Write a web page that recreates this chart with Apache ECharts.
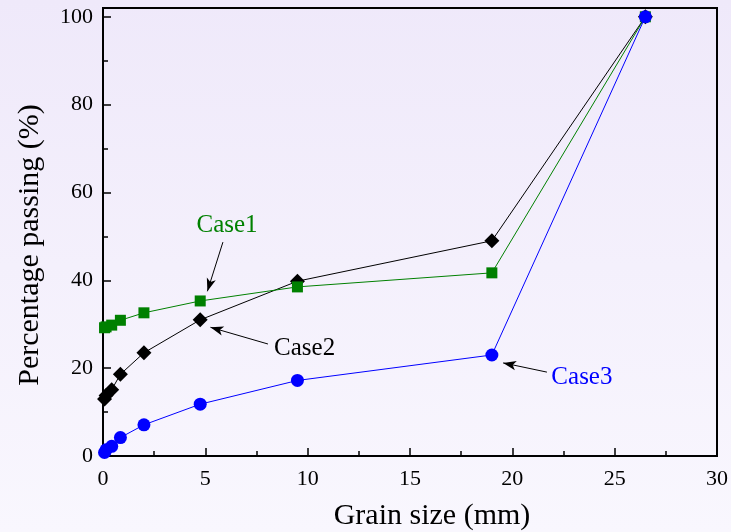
<!DOCTYPE html>
<html>
<head>
<meta charset="utf-8">
<script src="https://cdn.jsdelivr.net/npm/echarts@6/dist/echarts.min.js"></script>
<style>
html,body{margin:0;padding:0;overflow:hidden;}
body{width:731px;height:532px;background:linear-gradient(to bottom,#EFE9FA,#F9F7FE);}
#c{width:731px;height:532px;}
</style>
</head>
<body>
<div id="c"></div>
<script>
const grainSize = [0.075, 0.15, 0.425, 0.85, 2, 4.75, 9.5, 19, 26.5];
const case1 = [29.2, 29.4, 29.8, 30.9, 32.6, 35.3, 38.5, 41.7, 100];
const case2 = [13.0, 13.8, 15.1, 18.6, 23.5, 31.0, 39.8, 49.0, 100];
const case3 = [0.8, 1.4, 2.2, 4.2, 7.1, 11.8, 17.2, 23.0, 100];
const xTicks = [0, 5, 10, 15, 20, 25, 30];
const yTicks = [0, 20, 40, 60, 80, 100];
const yMinor = [10, 30, 50, 70, 90];

const FONT = '"Liberation Serif","Times New Roman",serif';
const pair = (xs, ys) => xs.map((x, i) => [x, ys[i]]);

const arrowStyle = {color: '#000', width: 1, type: 'solid'};
function arrow(from, to) {
  return [{coord: from, symbol: 'none'}, {coord: to, symbol: 'arrow', symbolSize: [7, 13]}];
}
function label(pos, text, color) {
  return {coord: pos, symbol: 'circle', symbolSize: 0,
    label: {show: true, position: 'inside', formatter: text, color: color, fontFamily: FONT, fontSize: 25}};
}

const chart = echarts.init(document.getElementById('c'), null, {renderer: 'canvas'});
chart.setOption({
  backgroundColor: 'transparent',
  animation: false,
  grid: {left: 103, right: 14, top: 8, bottom: 76, show: true, borderColor: '#000', borderWidth: 2,
         backgroundColor: 'transparent', containLabel: false, outerBoundsMode: 'none'},
  xAxis: {
    type: 'value', min: 0, max: 30, interval: 5,
    name: 'Grain size (mm)', nameLocation: 'middle', nameGap: 45,
    nameTextStyle: {fontFamily: FONT, fontSize: 30, color: '#000', padding: [0, 0, 0, 44]},
    axisLine: {show: true, onZero: false, lineStyle: {color: '#000', width: 2}},
    axisTick: {show: true, inside: true, length: 8, lineStyle: {color: '#000', width: 1.5}},
    minorTick: {show: true, splitNumber: 2, length: 5, lineStyle: {color: '#000', width: 1.5}},
    axisLabel: {fontFamily: FONT, fontSize: 22, color: '#000', margin: 12, customValues: xTicks},
    splitLine: {show: false}, minorSplitLine: {show: false}
  },
  yAxis: [{
    type: 'value', min: 0, max: 102,
    name: 'Percentage passing (%)', nameLocation: 'middle', nameGap: 58,
    nameTextStyle: {fontFamily: FONT, fontSize: 30, color: '#000', padding: [0, 26, 0, 0]},
    axisLine: {show: true, onZero: false, lineStyle: {color: '#000', width: 2}},
    axisTick: {show: true, inside: true, length: 8, customValues: yTicks, lineStyle: {color: '#000', width: 1.5}},
    axisLabel: {fontFamily: FONT, fontSize: 22, color: '#000', margin: 10, customValues: yTicks},
    splitLine: {show: false}
  }, {
    type: 'value', min: 0, max: 102, position: 'left',
    axisLine: {show: false},
    axisTick: {show: true, inside: true, length: 5, customValues: yMinor, lineStyle: {color: '#000', width: 1.5}},
    axisLabel: {show: false},
    splitLine: {show: false}
  }],
  series: [
    {name: 'Case2', type: 'line', data: pair(grainSize, case2), symbol: 'diamond', symbolSize: 15,
     itemStyle: {color: '#000'}, lineStyle: {color: '#000', width: 1},
     markLine: {silent: true, animation: false, lineStyle: arrowStyle, label: {show: false}, data: [arrow([8.06, 25.5], [5.25, 29.3])]},
     markPoint: {data: [label([9.85, 24.6], 'Case2', '#000')]}},
    {name: 'Case1', type: 'line', data: pair(grainSize, case1), symbol: 'rect', symbolSize: 11,
     itemStyle: {color: '#008000'}, lineStyle: {color: '#008000', width: 1},
     markLine: {silent: true, animation: false, lineStyle: arrowStyle, label: {show: false}, data: [arrow([5.86, 48.7], [5.1, 37.5])]},
     markPoint: {data: [label([6.06, 52.6], 'Case1', '#008000')]}},
    {name: 'Case3', type: 'line', data: pair(grainSize, case3), symbol: 'circle', symbolSize: 13,
     itemStyle: {color: '#0000FF'}, lineStyle: {color: '#0000FF', width: 1},
     markLine: {silent: true, animation: false, lineStyle: arrowStyle, label: {show: false}, data: [arrow([21.69, 19.1], [19.55, 21.2])]},
     markPoint: {data: [label([23.4, 17.8], 'Case3', '#0000FF')]}}
  ]
});
</script>
</body>
</html>
